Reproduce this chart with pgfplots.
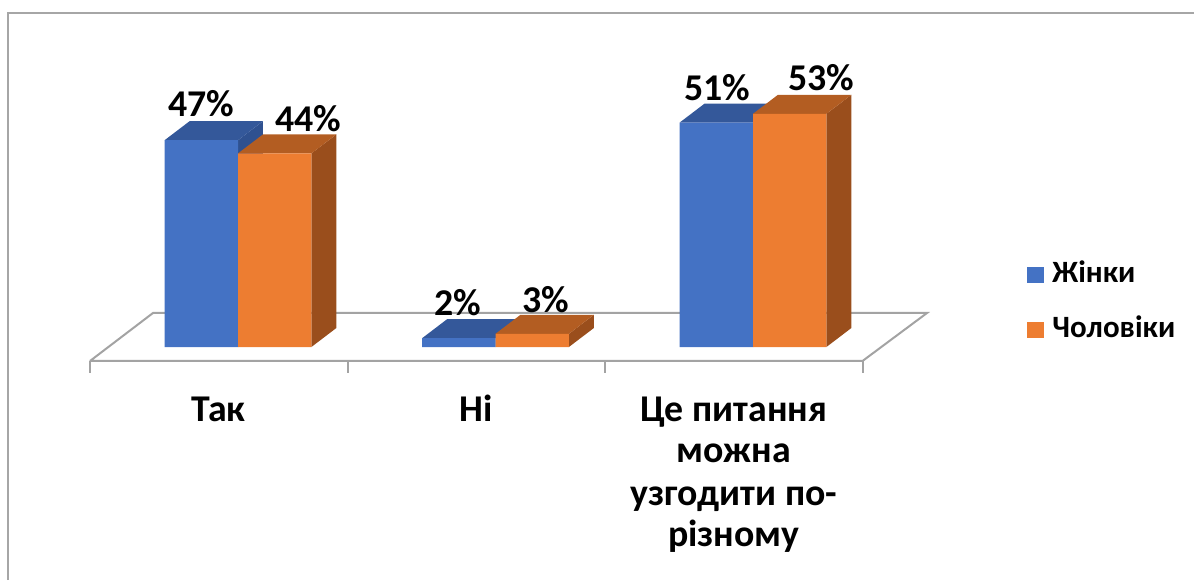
\documentclass[border=0pt]{standalone}
\usepackage{pgfplots}
\pgfplotsset{compat=1.18}
\usepackage{fontspec}
\setmainfont{Carlito}
\definecolor{blueF}{HTML}{4472C4}
\definecolor{blueT}{HTML}{34589A}
\definecolor{blueS}{HTML}{2F5190}
\definecolor{orangeF}{HTML}{ED7D31}
\definecolor{orangeT}{HTML}{B35D22}
\definecolor{orangeS}{HTML}{9A4E1C}
\definecolor{floorgray}{HTML}{A3A3A3}
\definecolor{framegray}{HTML}{A6A6A6}
\newcommand{\lbl}{\fontsize{18.9}{21}\selectfont\bfseries}
\newcommand{\leg}{\fontsize{15.5}{18}\selectfont\bfseries}
\begin{document}
\begin{tikzpicture}
\begin{axis}[
  width=597pt, height=290pt, scale only axis,
  xmin=-0.9243, xmax=3.7126, ymin=-52.955, ymax=78.864,
  axis lines=none, clip=false,
]
% frame
\draw[framegray, line width=1pt] (axis cs:-0.8932,-52.955) -- (axis cs:-0.8932,75.91) -- (axis cs:3.7126,75.91);
% floor
\addplot[floorgray, line width=1pt, no marks] coordinates {(-0.5748,-3.18) (2.4252,-3.18) (2.6757,7.73) (-0.3301,7.73) (-0.5748,-3.18)};
\draw[floorgray, line width=1pt] (axis cs:-0.5748,-3.18) -- (axis cs:-0.5748,-5.91);
\draw[floorgray, line width=1pt] (axis cs:0.4252,-3.18) -- (axis cs:0.4252,-5.91);
\draw[floorgray, line width=1pt] (axis cs:1.4252,-3.18) -- (axis cs:1.4252,-5.91);
\draw[floorgray, line width=1pt] (axis cs:2.4252,-3.18) -- (axis cs:2.4252,-5.91);
% blue sides and tops
\addplot[fill=blueS, draw=none] coordinates {(0,0) (0.097,4.32) (0.097,51.32) (0,47)} -- cycle;
\addplot[fill=blueT, draw=none] coordinates {(-0.285,47) (-0.188,51.32) (0.097,51.32) (0,47)} -- cycle;
\addplot[fill=blueS, draw=none] coordinates {(1,0) (1.097,4.32) (1.097,6.32) (1,2)} -- cycle;
\addplot[fill=blueT, draw=none] coordinates {(0.715,2) (0.812,6.32) (1.097,6.32) (1,2)} -- cycle;
\addplot[fill=blueS, draw=none] coordinates {(2,0) (2.097,4.32) (2.097,55.32) (2,51)} -- cycle;
\addplot[fill=blueT, draw=none] coordinates {(1.715,51) (1.812,55.32) (2.097,55.32) (2,51)} -- cycle;
% blue fronts
\addplot[ybar, bar width=0.285, bar shift=-0.1425, fill=blueF, draw=none] coordinates {(0,47) (1,2) (2,51)};
% orange sides and tops
\addplot[fill=orangeS, draw=none] coordinates {(0.285,0) (0.382,4.32) (0.382,48.32) (0.285,44)} -- cycle;
\addplot[fill=orangeT, draw=none] coordinates {(0,44) (0.097,48.32) (0.382,48.32) (0.285,44)} -- cycle;
\addplot[fill=orangeS, draw=none] coordinates {(1.285,0) (1.382,4.32) (1.382,7.32) (1.285,3)} -- cycle;
\addplot[fill=orangeT, draw=none] coordinates {(1,3) (1.097,7.32) (1.382,7.32) (1.285,3)} -- cycle;
\addplot[fill=orangeS, draw=none] coordinates {(2.285,0) (2.382,4.32) (2.382,57.32) (2.285,53)} -- cycle;
\addplot[fill=orangeT, draw=none] coordinates {(2,53) (2.097,57.32) (2.382,57.32) (2.285,53)} -- cycle;
% orange fronts
\addplot[ybar, bar width=0.285, bar shift=0.1425, fill=orangeF, draw=none] coordinates {(0,44) (1,3) (2,53)};
% data labels
\node[anchor=base, inner sep=0, font=\lbl] at (axis cs:-0.1427,52.3) {47\%};
\node[anchor=base, inner sep=0, font=\lbl] at (axis cs:0.272,48.9) {44\%};
\node[anchor=base, inner sep=0, font=\lbl] at (axis cs:0.854,7.27) {2\%};
\node[anchor=base, inner sep=0, font=\lbl] at (axis cs:1.196,7.95) {3\%};
\node[anchor=base, inner sep=0, font=\lbl] at (axis cs:1.860,56.1) {51\%};
\node[anchor=base, inner sep=0, font=\lbl] at (axis cs:2.264,58.4) {53\%};
% category labels
\node[anchor=base, inner sep=0, font=\lbl] at (axis cs:-0.0753,-16.82) {Так};
\node[anchor=base, inner sep=0, font=\lbl] at (axis cs:0.9247,-16.82) {Ні};
\node[anchor=base, inner sep=0, font=\lbl] at (axis cs:1.9247,-16.82) {Це питання};
\node[anchor=base, inner sep=0, font=\lbl] at (axis cs:1.9247,-26.36) {можна};
\node[anchor=base, inner sep=0, font=\lbl] at (axis cs:1.9247,-35.91) {узгодити по-};
\node[anchor=base, inner sep=0, font=\lbl] at (axis cs:1.9247,-45.45) {різному};
% legend
\node[anchor=base west, inner sep=0, font=\leg] at (axis cs:3.0641,14.77) {\textcolor{blueF}{\rule[-0.5pt]{8.5pt}{8pt}}\hspace{4pt}Жінки};
\node[anchor=base west, inner sep=0, font=\leg] at (axis cs:3.0641,2.27) {\textcolor{orangeF}{\rule[-0.5pt]{8.5pt}{8pt}}\hspace{4pt}Чоловіки};
\end{axis}
\pgfresetboundingbox
\path (current axis.south west) rectangle (current axis.north east);
\end{tikzpicture}
\end{document}
